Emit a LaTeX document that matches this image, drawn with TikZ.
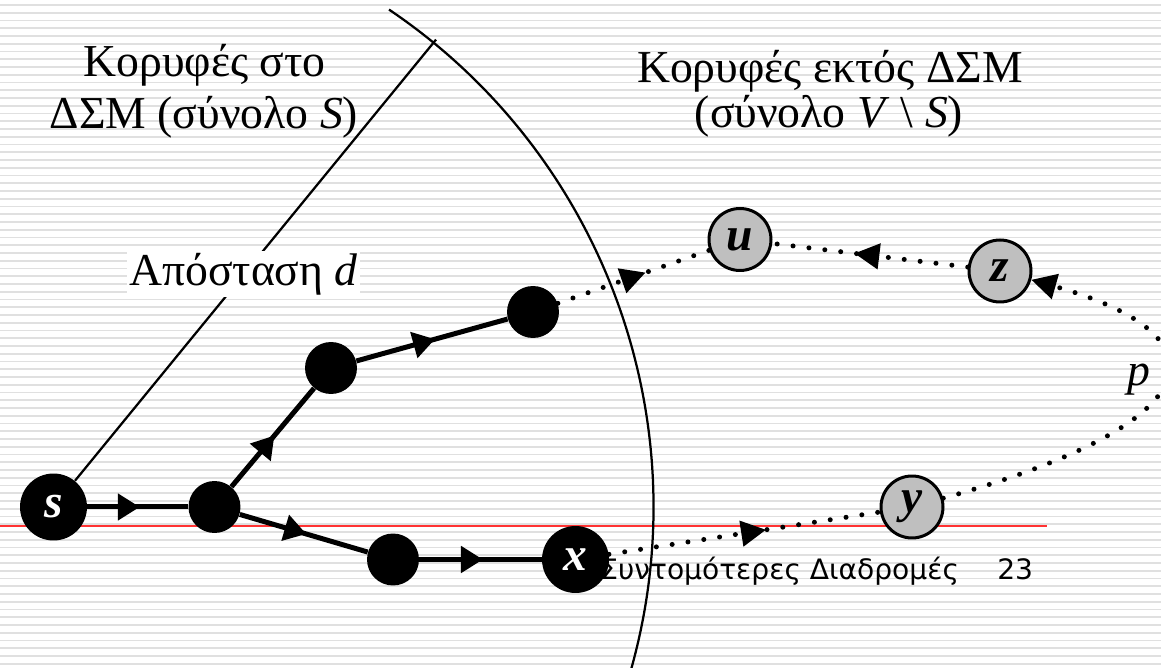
\documentclass[tikz,border=0pt]{standalone}
\usepackage{fontspec}
\setmainfont{Liberation Serif}
\newfontfamily\footfont{DejaVu Sans}
\usepackage{tikz}
\usetikzlibrary{arrows.meta,decorations.markings}

\begin{document}
\begin{tikzpicture}[x=0.02cm, y=-0.02cm,
    every node/.style={font=\fontsize{26}{30}\selectfont, inner sep=0pt},
    stripe/.style={draw=black!12, line width=0.035cm},
    vtx/.style={circle, fill=black, minimum size=1.04cm},
    endvtx/.style={vtx, minimum size=1.34cm, text=white, font=\fontsize{27}{27}\selectfont\bfseries\itshape},
    outvtx/.style={circle, draw=black, line width=0.06cm, fill=black!25, minimum size=1.24cm, font=\fontsize{27}{27}\selectfont\bfseries\itshape},
    pathedge/.style={line width=0.1cm, postaction={decorate, decoration={markings,
        mark=at position 0.52 with {\arrow{Triangle[length=0.44cm,width=0.52cm]}}}}},
    dotline/.style={line width=0.1cm, line cap=round, dash pattern=on 0pt off 0.32cm},
    dotedge/.style={dotline, postaction={decorate, decoration={markings,
        mark=at position 0.58 with {\arrow{Triangle[length=0.5cm,width=0.5cm]}}}}},
    rimline/.style={line width=0.045cm}]
    \useasboundingbox (0,0) rectangle (1161,668);

    % Background stripes
    \fill[white] (0,0) rectangle (1161,668);
    \foreach \k in {0,...,85} {
        \draw[stripe] (0,{5+7.75*\k}) -- (1161,{5+7.75*\k});
    }
    \draw[red!80, line width=0.03cm] (0,526) -- (1047,526);

    % Footer
    \node[anchor=base west, font=\footfont\fontsize{16}{16}\selectfont] (footer) at (600,580) {Συντομότερες Διαδρομές};
    \node[anchor=base west, font=\footfont\fontsize{16}{16}\selectfont] (pagenum) at (997,580) {23};

    % Titles
    \node[anchor=base] (lefttop) at (204.5,77) {Κορυφές στο};
    \node[anchor=base] (leftbot) at (204,129) {ΔΣΜ (σύνολο \textit{S})};
    \node[anchor=base] (righttop) at (830,83) {Κορυφές εκτός ΔΣΜ};
    \node[anchor=base] (rightbot) at (829,128) {(σύνολο \textit{V} \textbackslash{} \textit{S})};

    % Vertices in S
    \node[endvtx] (s) at (53.5,507) {s};
    \node[vtx] (v1) at (214.5,507) {};
    \node[vtx] (v2) at (331,368) {};
    \node[vtx] (v3) at (533,312) {};
    \node[vtx] (v4) at (393,559.5) {};
    \node[endvtx] (x) at (575.5,559.5) {x};

    % Vertices outside S
    \node[outvtx] (u) at (740,239.5) {u};
    \node[outvtx] (z) at (1000,271) {z};
    \node[outvtx] (y) at (912,507) {y};

    % Border of S
    \draw[rimline] (s.center) ++(-56:600) arc[start angle=-56, end angle=16, radius=600];
    \path (s.center) ++(-50.7:604) coordinate (rim);
    \draw[rimline] (s) -- (rim);
    \node[fill=white, inner sep=0.04cm] (dist) at (243.5,274) {Απόσταση \textit{d}};

    % Shortest paths inside S
    \draw[pathedge] (s) -- (v1);
    \draw[pathedge] (v1) -- (v2);
    \draw[pathedge] (v2) -- (v3);
    \draw[pathedge] (v1) -- (v4);
    \draw[pathedge] (v4) -- (x);

    % Path p
    \draw[dotedge] (v3) -- (u);
    \draw[dotedge] (x) -- (y);
    \draw[dotedge] (z) -- (u);
    \draw[dotline, -{Triangle[length=0.5cm,width=0.5cm]}] (y) .. controls (1222,420) and (1224,334) .. (z);
    \node[anchor=base] (plbl) at (1139,386) {\textit{p}};
\end{tikzpicture}
\end{document}
